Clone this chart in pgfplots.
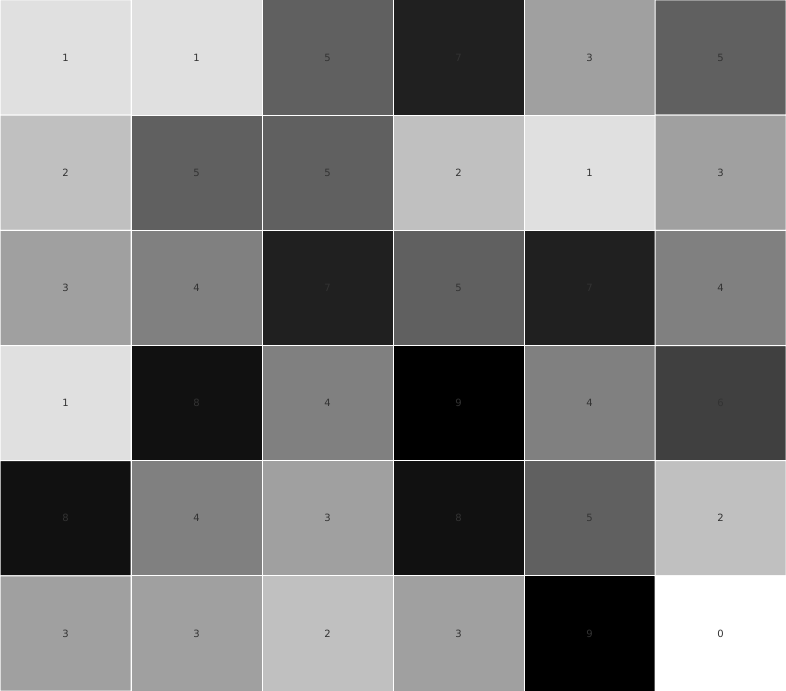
\documentclass[border=0pt]{standalone}
\usepackage{pgfplots}
\pgfplotsset{compat=1.18}
\usepackage{pgfplotstable}
\usepackage{fontspec}
\setmainfont{DejaVu Sans}
\definecolor{txt}{HTML}{333333}
\pgfplotstableread{
x y v
0 0 1
1 0 1
2 0 5
3 0 7
4 0 3
5 0 5
0 1 2
1 1 5
2 1 5
3 1 2
4 1 1
5 1 3
0 2 3
1 2 4
2 2 7
3 2 5
4 2 7
5 2 4
0 3 1
1 3 8
2 3 4
3 3 9
4 3 4
5 3 6
0 4 8
1 4 4
2 4 3
3 4 8
4 4 5
5 4 2
0 5 3
1 5 3
2 5 2
3 5 3
4 5 9
5 5 0
}\datatable
\begin{document}
\begin{tikzpicture}
\begin{axis}[
  scale only axis, width=786pt, height=691pt,
  hide axis,
  xmin=-0.5, xmax=5.5, ymin=-0.5, ymax=5.5,
  y dir=reverse,
  /pgf/number format/assume math mode=true,
  colormap={gr}{rgb255(0)=(255,255,255) rgb255(1)=(224,224,224) rgb255(2)=(192,192,192) rgb255(3)=(160,160,160) rgb255(4)=(128,128,128) rgb255(5)=(96,96,96) rgb255(6)=(64,64,64) rgb255(7)=(32,32,32) rgb255(8)=(17,17,17) rgb255(9)=(0,0,0)},
  point meta min=0, point meta max=9,
]
\addplot[matrix plot*, mesh/cols=6, point meta=explicit, draw=white, line width=1pt] table[meta=v] {\datatable};
\addplot[draw=none, mark=none, point meta=explicit, nodes near coords={\pgfmathprintnumber[assume math mode=true]{\pgfplotspointmeta}}, nodes near coords align=center,
  every node near coord/.append style={text=txt, font=\fontsize{10}{12}\selectfont, anchor=center}] table[meta=v] {\datatable};
\coordinate (ll) at (rel axis cs:0,0);
\coordinate (ur) at (rel axis cs:1,1);
\end{axis}
\pgfresetboundingbox
\path (ll) rectangle (ur);
\end{tikzpicture}
\end{document}
